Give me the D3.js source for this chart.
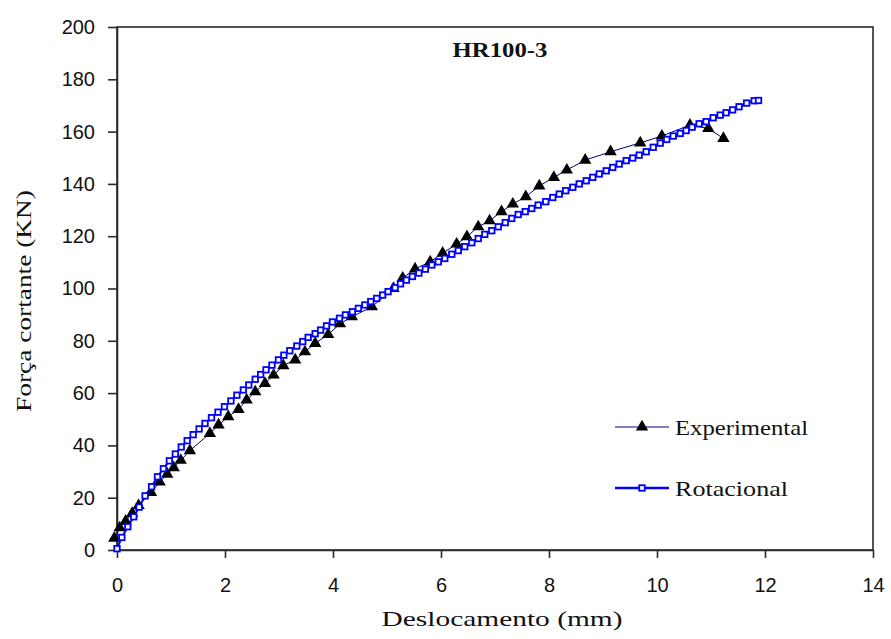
<!DOCTYPE html>
<html>
<head>
<meta charset="utf-8">
<script src="https://cdn.jsdelivr.net/npm/d3@7"></script>
<style>
  html, body { margin: 0; padding: 0; background: #fff; }
  svg { display: block; }
</style>
</head>
<body>
<svg id="chart" width="891" height="639"></svg>
<script>
// Shear force vs. displacement, specimen HR100-3
const chartTitle = "HR100-3";
const xLabel = "Deslocamento (mm)";
const yLabel = "Força cortante (KN)";
const seriesNames = ["Experimental", "Rotacional"];
const xTicks = [0, 2, 4, 6, 8, 10, 12, 14];
const yTicks = [0, 20, 40, 60, 80, 100, 120, 140, 160, 180, 200];

// Experimental: [displacement mm, force kN]
const experimental = [
  [-0.05, 4.5], [0.05, 8.5], [0.16, 11], [0.28, 14], [0.40, 17],
  [0.63, 22], [0.79, 26], [0.93, 29], [1.05, 31.5], [1.18, 34.3],
  [1.35, 38], [1.72, 44.6], [1.88, 47.8], [2.06, 51], [2.25, 53.8],
  [2.40, 57.4], [2.56, 60.5], [2.74, 63.7], [2.90, 66.9], [3.08, 70.5],
  [3.30, 72.7], [3.48, 75.8], [3.67, 79], [3.91, 82.4], [4.13, 86.5],
  [4.35, 89.2], [4.72, 93], [5.12, 100], [5.29, 104], [5.52, 107.5],
  [5.80, 110.2], [6.03, 113.5], [6.29, 117], [6.48, 119.8], [6.69, 123.6],
  [6.90, 125.9], [7.12, 129.4], [7.33, 132.3], [7.57, 135.1], [7.82, 139.2],
  [8.09, 142.5], [8.33, 145.3], [8.67, 149.1], [9.14, 152.3], [9.69, 155.7],
  [10.09, 158.3], [10.61, 162.5], [10.95, 161.2], [11.23, 157.4]
];

// Rotational model: [displacement mm, force kN]
const rotacional = [
  [0, 0.5], [0.09, 4.8], [0.20, 8.9], [0.31, 12.7], [0.41, 16.4],
  [0.52, 20.7], [0.64, 24.2], [0.75, 28], [0.86, 31.1], [0.97, 34.1],
  [1.08, 36.7], [1.19, 39.4], [1.30, 41.8], [1.41, 44.1], [1.52, 46.3],
  [1.63, 48.4], [1.75, 50.6], [1.87, 52.7], [1.99, 54.8], [2.11, 57],
  [2.22, 59.2], [2.34, 61.2], [2.44, 63.1], [2.56, 65.3], [2.66, 67.1],
  [2.76, 68.9], [2.87, 70.7], [2.99, 72.7], [3.09, 74.5], [3.20, 76.2],
  [3.33, 78], [3.44, 79.7], [3.54, 81.3], [3.67, 82.7], [3.77, 84.1],
  [3.88, 85.7], [3.99, 87.2], [4.12, 88.6], [4.23, 89.9], [4.36, 91.1],
  [4.47, 92.4], [4.59, 93.7], [4.70, 95], [4.81, 96.2], [4.92, 97.5],
  [5.02, 98.8], [5.15, 100.3], [5.25, 101.8], [5.36, 103.2], [5.47, 104.6],
  [5.59, 105.9], [5.71, 107.4], [5.83, 109], [5.95, 110.2], [6.07, 111.5],
  [6.20, 113.1], [6.32, 114.5], [6.44, 116], [6.57, 117.5], [6.69, 119.1],
  [6.81, 120.7], [6.94, 122.1], [7.06, 123.6], [7.19, 125.2], [7.31, 126.8],
  [7.43, 128.3], [7.56, 129.4], [7.68, 130.6], [7.80, 131.9], [7.94, 133.2],
  [8.07, 134.8], [8.19, 136.1], [8.31, 137.4], [8.44, 138.7], [8.56, 140],
  [8.69, 141.2], [8.81, 142.5], [8.93, 143.8], [9.06, 145], [9.18, 146.3],
  [9.30, 147.6], [9.43, 148.9], [9.55, 149.9], [9.67, 151], [9.80, 152.3],
  [9.93, 154], [10.06, 155.6], [10.18, 157], [10.30, 158.3], [10.43, 159.3],
  [10.54, 160.4], [10.65, 161.7], [10.78, 163], [10.91, 163.8], [11.04, 165.3],
  [11.17, 166.3], [11.28, 167.2], [11.40, 168.3], [11.52, 169.5], [11.66, 170.9],
  [11.80, 171.8], [11.88, 171.9]
];

const svg = d3.select("#chart");
const plot = { left: 117, right: 873, top: 27, bottom: 550 };

const x = d3.scaleLinear().domain([0, 14]).range([plot.left, plot.right]);
const y = d3.scaleLinear().domain([0, 200]).range([plot.bottom, plot.top]);

const axisColor = "#2a2a2a";
const sansFont = "'Liberation Sans', Arial, sans-serif";
const serifFont = "'Liberation Serif', 'Times New Roman', serif";

// Frame (top and right borders)
svg.append("rect")
  .attr("x", plot.left).attr("y", plot.top)
  .attr("width", plot.right - plot.left).attr("height", plot.bottom - plot.top)
  .attr("fill", "none").attr("stroke", axisColor).attr("stroke-width", 1.6);

// Y axis
const gy = svg.append("g")
  .attr("transform", `translate(${plot.left},0)`)
  .call(d3.axisLeft(y).tickValues(yTicks).tickSize(9).tickSizeOuter(0).tickPadding(13));
// X axis
const gx = svg.append("g")
  .attr("transform", `translate(0,${plot.bottom})`)
  .call(d3.axisBottom(x).tickValues(xTicks).tickSize(8).tickSizeOuter(0).tickPadding(20));

[gx, gy].forEach(g => {
  g.select(".domain").attr("stroke", axisColor).attr("stroke-width", 1.6);
  g.selectAll(".tick line").attr("stroke", axisColor).attr("stroke-width", 1.6);
  g.selectAll(".tick text")
    .attr("fill", "#111")
    .style("font-family", sansFont)
    .style("font-size", "20px");
});

// Experimental series: thin navy line with filled triangles
const line = d3.line().x(d => x(d[0])).y(d => y(d[1]));
svg.append("path")
  .datum(experimental)
  .attr("d", line)
  .attr("fill", "none")
  .attr("stroke", "#000080")
  .attr("stroke-width", 1);

// Rotational series: blue line with hollow squares
svg.append("path")
  .datum(rotacional)
  .attr("d", line)
  .attr("fill", "none")
  .attr("stroke", "#0000ff")
  .attr("stroke-width", 2);

const tri = d3.symbol().type(d3.symbolTriangle).size(66);
svg.append("g").selectAll("path")
  .data(experimental)
  .join("path")
  .attr("d", tri)
  .attr("transform", d => `translate(${x(d[0])},${y(d[1])})`)
  .attr("fill", "#000");

const sq = 5.5;
svg.append("g").selectAll("rect")
  .data(rotacional)
  .join("rect")
  .attr("x", d => x(d[0]) - sq / 2)
  .attr("y", d => y(d[1]) - sq / 2)
  .attr("width", sq).attr("height", sq)
  .attr("fill", "#fff")
  .attr("stroke", "#0000ff")
  .attr("stroke-width", 1.8);

// Title
svg.append("text")
  .attr("x", 500).attr("y", 57)
  .attr("text-anchor", "middle")
  .attr("textLength", 95).attr("lengthAdjust", "spacingAndGlyphs")
  .style("font-family", serifFont)
  .style("font-weight", "bold")
  .style("font-size", "22px")
  .attr("fill", "#111")
  .text(chartTitle);

// Axis titles
svg.append("text")
  .attr("x", 502).attr("y", 626)
  .attr("text-anchor", "middle")
  .attr("textLength", 241).attr("lengthAdjust", "spacingAndGlyphs")
  .style("font-family", serifFont)
  .style("font-size", "22px")
  .attr("fill", "#111")
  .text(xLabel);

svg.append("text")
  .attr("transform", "translate(31,301) rotate(-90)")
  .attr("text-anchor", "middle")
  .attr("textLength", 222).attr("lengthAdjust", "spacingAndGlyphs")
  .style("font-family", serifFont)
  .style("font-size", "22px")
  .attr("fill", "#111")
  .text(yLabel);

// Legend
const legend = svg.append("g");
const legendRows = [
  { name: seriesNames[0], y: 427, color: "#000080", width: 1, marker: "tri", textLen: 133 },
  { name: seriesNames[1], y: 488, color: "#0000ff", width: 2.6, marker: "sq", textLen: 113 }
];
legendRows.forEach(r => {
  legend.append("line")
    .attr("x1", 615).attr("x2", 669)
    .attr("y1", r.y).attr("y2", r.y)
    .attr("stroke", r.color).attr("stroke-width", r.width);
  if (r.marker === "tri") {
    legend.append("path").attr("d", tri)
      .attr("transform", `translate(642,${r.y})`).attr("fill", "#000");
  } else {
    legend.append("rect")
      .attr("x", 642 - sq / 2).attr("y", r.y - sq / 2)
      .attr("width", sq).attr("height", sq)
      .attr("fill", "#fff").attr("stroke", "#0000ff").attr("stroke-width", 1.8);
  }
  legend.append("text")
    .attr("x", 675).attr("y", r.y + 8)
    .attr("textLength", r.textLen).attr("lengthAdjust", "spacingAndGlyphs")
    .style("font-family", serifFont)
    .style("font-size", "22px")
    .attr("fill", "#111")
    .text(r.name);
});
</script>
</body>
</html>
